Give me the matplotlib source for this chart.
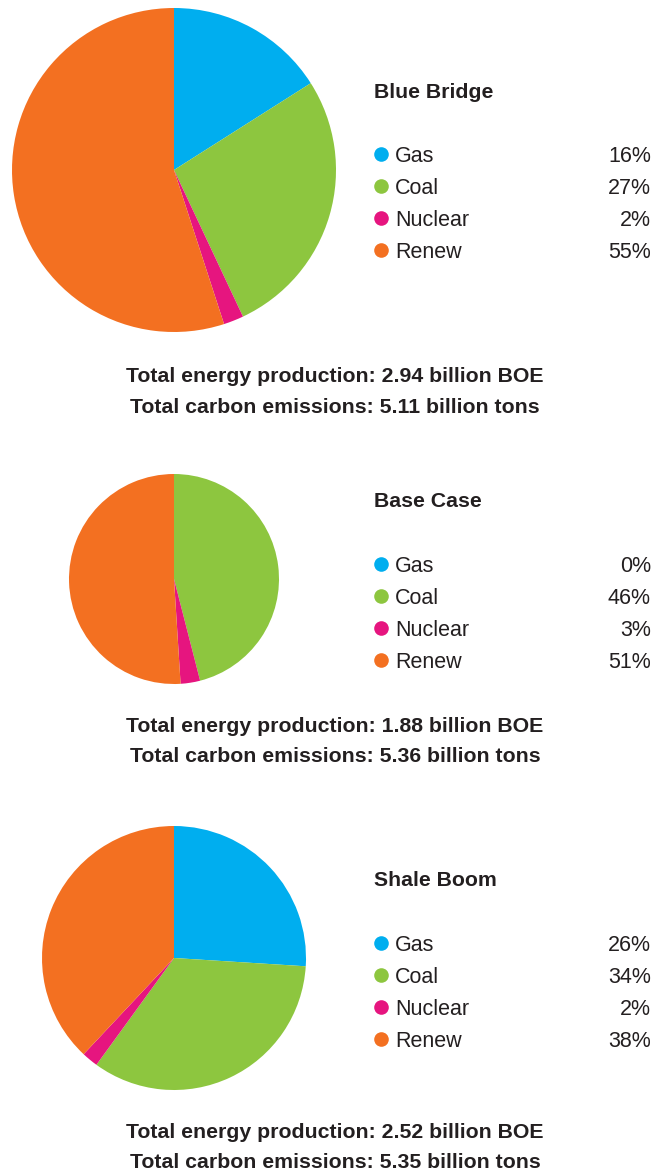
import matplotlib
matplotlib.use("Agg")
import matplotlib.pyplot as plt

# ---- data ----
scenarios = ["Blue Bridge", "Base Case", "Shale Boom"]
sources = ["Gas", "Coal", "Nuclear", "Renew"]
blue_bridge = [16, 27, 2, 55]
base_case = [0, 46, 3, 51]
shale_boom = [26, 34, 2, 38]
production_boe = [2.94, 1.88, 2.52]
emissions_tons = [5.11, 5.36, 5.35]

colors = ["#00AEEF", "#8DC63F", "#E6157F", "#F37021"]
text_color = "#231F20"

W, H = 665, 1173
DPI = 100
fig = plt.figure(figsize=(W / DPI, H / DPI), dpi=DPI)
fig.patch.set_facecolor("white")
plt.rcParams["font.family"] = ["Liberation Sans", "DejaVu Sans"]

# layout in pixels (center x, center y, radius) per pie
pie_layout = [(174, 170, 162), (174, 579, 105), (174, 958, 132)]
title_y = [90, 500, 879]
row0_y = [154, 564, 943]
row_gap = 32
foot_y = [374, 724, 1130]

def fx(px):
    return px / W

def fy(py):
    return 1 - py / H

all_shares = [blue_bridge, base_case, shale_boom]

for i, name in enumerate(scenarios):
    cx, cy, r = pie_layout[i]
    ax = fig.add_axes([fx(cx - r), fy(cy + r), 2 * r / W, 2 * r / H])
    ax.pie(all_shares[i], colors=colors, startangle=90, counterclock=False,
           radius=1, wedgeprops=dict(linewidth=0))
    ax.set_xlim(-1.0, 1.0)
    ax.set_ylim(-1.0, 1.0)
    ax.set_aspect("equal")
    ax.axis("off")

    fig.text(fx(374), fy(title_y[i]), name, fontsize=15.3, fontweight="bold",
             color=text_color, ha="left", va="center_baseline")
    for j, src in enumerate(sources):
        y = row0_y[i] + j * row_gap
        fig.lines.append(plt.Line2D([fx(381)], [fy(y)], marker="o", markersize=10.5,
                                    color=colors[j], markeredgewidth=0,
                                    transform=fig.transFigure, figure=fig))
        fig.text(fx(395), fy(y), src, fontsize=15.5, color=text_color,
                 ha="left", va="center_baseline")
        fig.text(fx(651), fy(y), f"{all_shares[i][j]}%", fontsize=15.5,
                 color=text_color, ha="right", va="center_baseline")

    fig.text(fx(335), fy(foot_y[i]),
             f"Total energy production: {production_boe[i]:.2f} billion BOE",
             fontsize=15.3, fontweight="bold", color=text_color,
             ha="center", va="center_baseline")
    fig.text(fx(335), fy(foot_y[i] + 31),
             f"Total carbon emissions: {emissions_tons[i]:.2f} billion tons",
             fontsize=15.3, fontweight="bold", color=text_color,
             ha="center", va="center_baseline")

fig.savefig("out.png", dpi=DPI, facecolor="white")
